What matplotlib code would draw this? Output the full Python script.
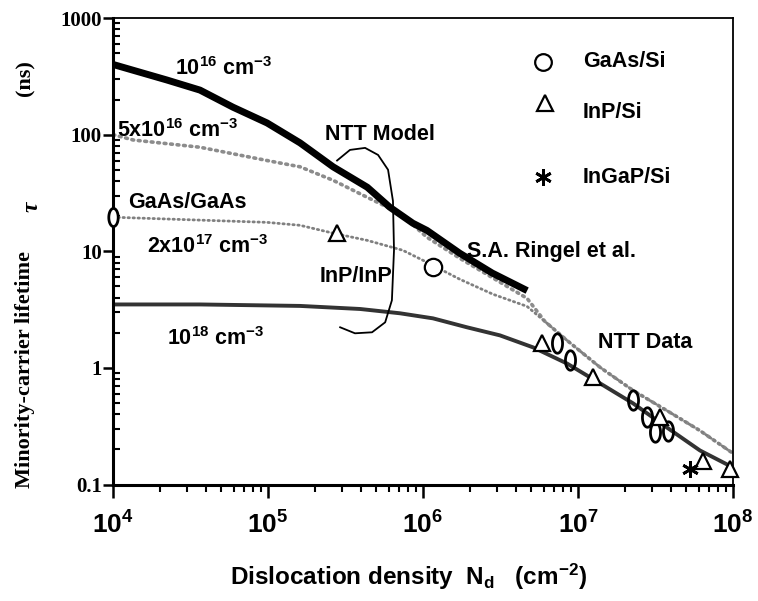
import numpy as np
import matplotlib
matplotlib.use("Agg")
import matplotlib.pyplot as plt
from matplotlib.path import Path
from matplotlib.ticker import FixedLocator, NullFormatter, LogLocator

plt.rcParams['font.family'] = ['Liberation Sans', 'DejaVu Sans']
plt.rcParams['font.weight'] = 'bold'
plt.rcParams['mathtext.fontset'] = 'custom'
plt.rcParams['mathtext.rm'] = 'Liberation Sans:bold'
plt.rcParams['mathtext.bf'] = 'Liberation Sans:bold'
plt.rcParams['mathtext.it'] = 'Liberation Sans:bold:italic'
plt.rcParams['mathtext.sf'] = 'Liberation Sans:bold'

# model curves: dislocation density (cm^-2) vs lifetime (ns)
nd_1e16 = [1e4, 2.23e4, 3.64e4, 5.94e4, 9.86e4, 1.61e5, 2.63e5, 4.37e5, 6.1e5, 8.6e5, 1.06e6,
           1.73e6, 2.8e6, 4.7e6]
tau_1e16 = [400, 294, 241, 172, 126, 85, 53, 35.4, 23.9, 17.4, 15.1, 9.6, 6.5, 4.6]

nd_5e16 = [1e4, 1.35e4, 3.64e4, 9.86e4, 1.61e5, 2.63e5, 4.37e5, 7.1e5, 1.06e6, 1.73e6, 2.83e6,
           4.69e6, 6.12e6, 8.5e6, 1.39e7, 2.27e7, 3.75e7, 6.12e7, 1e8]
tau_5e16 = [100, 90, 78, 60, 53, 40.6, 29, 21.2, 13.2, 8.7, 5.9, 3.95, 2.5, 1.72, 1.01, 0.64,
            0.43, 0.29, 0.185]

nd_2e17 = [1e4, 3.64e4, 9.86e4, 1.61e5, 2.63e5, 4.37e5, 7.4e5, 1.06e6, 1.73e6, 2.83e6, 4.69e6,
           6.12e6, 8.5e6, 1.39e7, 2.27e7, 3.75e7, 6.12e7, 1e8]
tau_2e17 = [19.6, 18.5, 17.7, 16.7, 14.3, 12.4, 10.2, 8.05, 5.75, 4.28, 3.37, 2.5, 1.72, 1.01,
            0.64, 0.43, 0.29, 0.185]

nd_1e18 = [1e4, 3.64e4, 1.61e5, 3.93e5, 7.1e5, 1.16e6, 1.92e6, 3.14e6, 5.13e6, 8.5e6, 1.39e7,
           2.27e7, 3.75e7, 6.12e7, 1e8]
tau_1e18 = [3.5, 3.5, 3.4, 3.2, 2.94, 2.66, 2.23, 1.90, 1.50, 1.09, 0.736, 0.496, 0.308, 0.196, 0.140]

# measured points
gaas_si_nd = [7.3e6, 8.9e6, 2.27e7, 2.79e7, 3.14e7, 3.81e7]
gaas_si_tau = [1.65, 1.16, 0.53, 0.376, 0.28, 0.29]
ringel_nd = [1.16e6]
ringel_tau = [7.3]
gaas_gaas_nd = [1e4]
gaas_gaas_tau = [19.6]
inp_si_nd = [5.86e6, 1.25e7, 3.38e7, 6.4e7, 9.6e7]
inp_si_tau = [1.62, 0.83, 0.38, 0.16, 0.137]
inp_inp_nd = [2.79e5]
inp_inp_tau = [14.3]
ingap_si_nd = [5.3e7]
ingap_si_tau = [0.135]

# hand-drawn bracket grouping the model curves
bracket_nd = [2.79e5, 3.38e5, 4.23e5, 5.13e5, 5.95e5, 6.4e5, 6.5e5, 6.3e5, 5.7e5, 4.69e5, 3.64e5, 2.92e5]
bracket_tau = [60, 74, 77, 67, 50, 27, 10.2, 3.8, 2.46, 2.02, 1.98, 2.23]

xtick_vals = [1e4, 1e5, 1e6, 1e7, 1e8]
xtick_labels = [r'$10^{4}$', r'$10^{5}$', r'$10^{6}$', r'$10^{7}$', r'$10^{8}$']
ytick_vals = [0.1, 1, 10, 100, 1000]
ytick_labels = ['0.1', '1', '10', '100', '1000']

t = np.linspace(0, 2 * np.pi, 60)
oval = Path(np.column_stack([0.52 * np.cos(t), np.sin(t)]), closed=True)

fig = plt.figure(figsize=(7.58, 6.01), dpi=100)
ax = fig.add_axes([0.1491, 0.1938, 0.8179, 0.7762])
ax.set_xscale('log')
ax.set_yscale('log')
ax.set_xlim(1e4, 1e8)
ax.set_ylim(0.1, 1000)

dots = (0, (0.5, 1.3))
ax.plot(nd_5e16, tau_5e16, color='0.55', lw=2.6, ls=dots, dash_capstyle='round')
ax.plot(nd_2e17, tau_2e17, color='0.5', lw=2.0, ls=dots, dash_capstyle='round')
ax.plot(nd_1e18, tau_1e18, color='0.2', lw=2.8)
ax.plot(nd_1e16, tau_1e16, color='black', lw=5, solid_capstyle='butt')

ax.plot(bracket_nd, bracket_tau, color='black', lw=1.3)

ax.plot(gaas_si_nd, gaas_si_tau, ls='none', marker=oval, ms=14, mfc='none', mec='black', mew=2)
ax.plot(gaas_gaas_nd, gaas_gaas_tau, ls='none', marker=oval, ms=13, mfc='white', mec='black',
        mew=2, clip_on=False, zorder=5)
ax.plot(ringel_nd, ringel_tau, ls='none', marker='o', ms=12.5, mfc='white', mec='black', mew=1.6)
ax.plot(inp_si_nd, inp_si_tau, ls='none', marker='^', ms=12, mfc='white', mec='black', mew=1.6,
        clip_on=False, zorder=5)
ax.plot(inp_inp_nd, inp_inp_tau, ls='none', marker='^', ms=12, mfc='white', mec='black', mew=1.6)
ax.plot(ingap_si_nd, ingap_si_tau, ls='none', marker=(6, 2, 0), ms=12, mec='black', mew=2,
        clip_on=False, zorder=5)

# legend drawn by hand
ax.plot([0.694], [0.906], transform=ax.transAxes, marker='o', ms=12, mfc='white', mec='black', mew=1.6)
ax.plot([0.697], [0.818], transform=ax.transAxes, marker='^', ms=12, mfc='white', mec='black', mew=1.6)
ax.plot([0.694], [0.659], transform=ax.transAxes, marker=(6, 2, 0), ms=12, mec='black', mew=2)
fs = 15.5
ax.text(0.758, 0.895, 'GaAs/Si', transform=ax.transAxes, fontsize=fs, va='baseline')
ax.text(0.758, 0.786, 'InP/Si', transform=ax.transAxes, fontsize=fs, va='baseline')
ax.text(0.758, 0.646, 'InGaP/Si', transform=ax.transAxes, fontsize=fs, va='baseline')

labels = [
    (0.100, 0.878, r'10$^{16}$ cm$^{-3}$'),
    (0.0065, 0.745, r'5x10$^{16}$ cm$^{-3}$'),
    (0.024, 0.593, 'GaAs/GaAs'),
    (0.055, 0.496, r'2x10$^{17}$ cm$^{-3}$'),
    (0.334, 0.434, 'InP/InP'),
    (0.342, 0.739, 'NTT Model'),
    (0.571, 0.488, 'S.A. Ringel et al.'),
    (0.087, 0.299, r'10$^{18}$ cm$^{-3}$'),
    (0.782, 0.293, 'NTT Data'),
]
for x, y, s in labels:
    ax.text(x, y, s, transform=ax.transAxes, fontsize=fs, va='baseline')

# axes frame and ticks
for side in ['left', 'bottom']:
    ax.spines[side].set_linewidth(2.2)
for side in ['top', 'right']:
    ax.spines[side].set_linewidth(1.3)

ax.xaxis.set_major_locator(FixedLocator(xtick_vals))
ax.set_xticklabels(xtick_labels, fontsize=19)
ax.xaxis.set_minor_locator(LogLocator(base=10, subs=np.arange(2, 10)))
ax.xaxis.set_minor_formatter(NullFormatter())
ax.tick_params(axis='x', which='major', direction='out', length=9, width=1.8, pad=10)
ax.tick_params(axis='x', which='minor', direction='out', length=5, width=1.5)

ax.yaxis.set_major_locator(FixedLocator(ytick_vals))
ax.set_yticklabels(ytick_labels)
for lbl in ax.get_yticklabels():
    lbl.set_fontfamily('Liberation Serif')
    lbl.set_fontweight('bold')
    lbl.set_fontsize(15)
ax.yaxis.set_minor_locator(LogLocator(base=10, subs=np.arange(2, 10)))
ax.yaxis.set_minor_formatter(NullFormatter())
ax.tick_params(axis='y', which='major', direction='out', length=7, width=1.8, pad=1)
ax.tick_params(axis='y', which='minor', direction='in', length=5, width=1.5)

ax.set_xlabel(r'Dislocation density  N$_{\rm d}$   (cm$^{-2}$)', fontsize=17.5,
              fontweight='bold', labelpad=14)
ax.xaxis.set_label_coords((409 - 113) / 620, -0.165)

fig.text(0.033, 0.386, 'Minority-carrier lifetime', rotation=90, ha='center', va='center',
         fontsize=16, family='Liberation Serif', weight='bold')
fig.text(0.042, 0.656, 'τ', rotation=90, ha='center', va='center',
         fontsize=17, family='Liberation Serif', style='italic', weight='bold')
fig.text(0.033, 0.870, '(ns)', rotation=90, ha='center', va='center',
         fontsize=16, family='Liberation Serif', weight='bold')

fig.savefig('out.png', dpi=100)
